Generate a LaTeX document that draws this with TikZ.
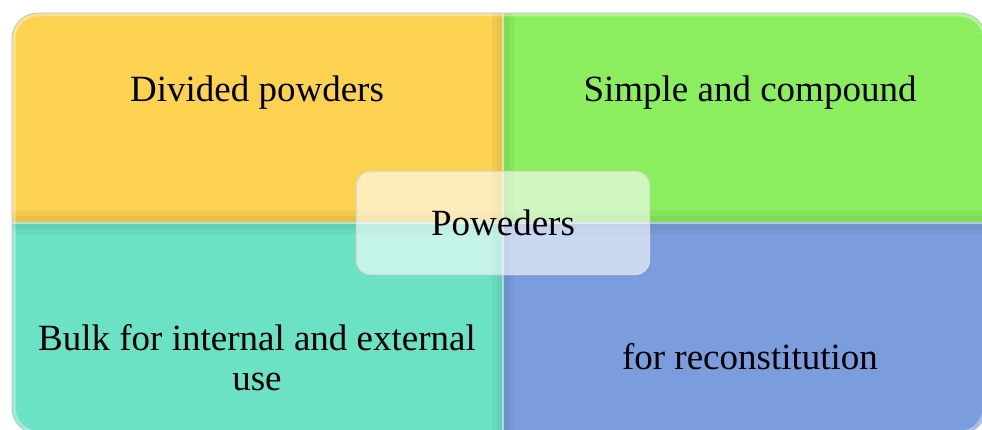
\documentclass[tikz,border=0pt]{standalone}
\usepackage{fontspec}
\setmainfont{Liberation Serif}
\definecolor{powyellow}{RGB}{252,210,80}
\definecolor{powgreen}{RGB}{139,238,94}
\definecolor{powteal}{RGB}{108,226,196}
\definecolor{powblue}{RGB}{123,157,222}
\begin{document}
\begin{tikzpicture}[x=1pt,y=-1pt,line join=round,
	quadtext/.style={font=\fontsize{37}{40}\selectfont,align=center,inner sep=0pt},
	hubbox/.style={draw=black!15,line width=1.2pt,fill=white,fill opacity=.6,text opacity=1,
		rounded corners=14pt,minimum width=293pt,minimum height=103pt,font=\fontsize{37}{40}\selectfont}]
	\useasboundingbox (0,0) rectangle (982,430);
	% four quarters inside the rounded frame
	\begin{scope}
		\clip[rounded corners=26pt] (12,13) rectangle (986,434);
		\fill[powyellow] (12,13) rectangle (503,222);
		\fill[powgreen] (503,13) rectangle (986,222);
		\fill[powteal] (12,222) rectangle (503,434);
		\fill[powblue] (503,222) rectangle (986,434);
		\fill[black,opacity=.04] (492,13) rectangle (514,434);
		\fill[black,opacity=.04] (497,13) rectangle (509,434);
		\fill[black,opacity=.04] (12,211) rectangle (986,234);
		\fill[black,opacity=.04] (12,216) rectangle (986,229);
		\draw[white,opacity=.5,line width=2.5pt] (503,13) -- (503,434);
		\draw[white,opacity=.5,line width=2.5pt] (12,223) -- (986,223);
		\draw[white,opacity=.35,line width=7pt,rounded corners=26pt] (12,13) rectangle (986,434);
	\end{scope}
	\draw[black!25,line width=.8pt,rounded corners=26pt] (12,13) rectangle (986,434);
	\node[quadtext] (divided) at (257,93) {Divided powders};
	\node[quadtext] (simple) at (750,93) {Simple and compound};
	\node[quadtext] (bulk) at (257,358) {Bulk for internal and external\\use};
	\node[quadtext] (recon) at (750,357) {for reconstitution};
	\node[hubbox] (hub) at (503,223) {Poweders};
\end{tikzpicture}
\end{document}
